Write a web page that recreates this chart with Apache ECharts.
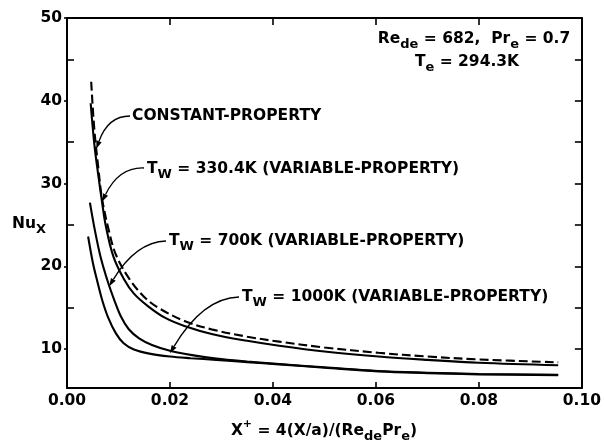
<!DOCTYPE html>
<html><head><meta charset="utf-8">
<script src="https://cdn.jsdelivr.net/npm/echarts@6/dist/echarts.min.js"></script>
<style>html,body{margin:0;padding:0;background:#fff}#c{width:604px;height:440px}</style>
</head><body><div id="c"></div>
<script>
// ---- data ----
const xConst  = [0.0047, 0.0053, 0.0061, 0.0068, 0.0081, 0.0095, 0.0122, 0.0150, 0.0177, 0.0228, 0.0283, 0.0350, 0.0412, 0.0500, 0.0605, 0.0700, 0.0800, 0.0954];
const nuConst = [42.3,   36.6,   31.8,   28.2,   24.4,   21.4,   18.4,   16.3,   15.0,   13.4,   12.35,  11.5,   10.9,   10.2,   9.55,   9.1,    8.75,   8.4];
const x330    = [0.0046, 0.0053, 0.0061, 0.0068, 0.0075, 0.0090, 0.0111, 0.0130, 0.0157, 0.0190, 0.0228, 0.0283, 0.0350, 0.0412, 0.0500, 0.0605, 0.0700, 0.0800, 0.0954];
const nu330   = [39.7,   34.8,   30.9,   27.8,   25.0,   21.2,   18.4,   16.7,   15.2,   13.8,   12.8,   11.8,   11.0,   10.4,   9.7,    9.1,    8.7,    8.35,   8.05];
const x700    = [0.00445,0.0054, 0.0065, 0.0079, 0.0092, 0.0105, 0.0120, 0.0140, 0.0165, 0.0200, 0.0240, 0.0290, 0.0350, 0.0412, 0.0500, 0.0605, 0.0700, 0.0800, 0.0954];
const nu700   = [27.7,   24.4,   21.2,   18.2,   15.9,   13.9,   12.4,   11.3,   10.5,   9.8,    9.3,    8.85,   8.5,    8.2,    7.8,    7.35,   7.15,   7.0,    6.9];
const x1000   = [0.0041, 0.0050, 0.0058, 0.0068, 0.0080, 0.0095, 0.0110, 0.0130, 0.0160, 0.0200, 0.0240, 0.0290, 0.0350, 0.0412, 0.0500, 0.0605, 0.0700, 0.0800, 0.0954];
const nu1000  = [23.6,   20.5,   18.4,   16.0,   13.8,   11.9,   10.7,   9.95,   9.45,   9.1,    8.9,    8.7,    8.42,   8.15,   7.75,   7.3,    7.1,    6.95,   6.85];

const yLabelTicks = [10, 20, 30, 40, 50];
const yMinorTicks = [15, 25, 35, 45];
const yRightTicks = [10, 15, 20, 25, 30, 35, 40, 45];

// arrow tips (data coordinates, on the curves)
const tipConst = [0.0057, 34.2];
const tip330   = [0.0068, 27.8];
const tip700   = [0.0082, 17.6];
const tip1000  = [0.0200, 9.5];

const FONT = '"DejaVu Sans"';
const pairs = (xs, ys) => xs.map((x, i) => [x, ys[i]]);
const chart = echarts.init(document.getElementById('c'), null, {renderer: 'canvas'});

const axisLine = {show: true, lineStyle: {color: '#000', width: 2}};
const tickStyle = {color: '#000', width: 1.6};
const labelStyle = {fontFamily: FONT, fontWeight: 'bold', fontSize: 15.5, color: '#000'};

const line = (data, dashed) => ({
  type: 'line', data, showSymbol: false, symbol: 'none', smooth: 0.35,
  xAxisIndex: 0, yAxisIndex: 0, silent: true,
  lineStyle: {color: '#000', width: 2.1, type: dashed ? [9, 4] : 'solid'}
});

chart.setOption({
  animation: false,
  backgroundColor: '#fff',
  grid: {left: 67, right: 20, top: 18, bottom: 52},
  xAxis: [
    {type: 'value', min: 0, max: 0.1, interval: 0.02, position: 'bottom', axisLine,
     splitLine: {show: false}, axisTick: {inside: true, length: 6, lineStyle: tickStyle},
     axisLabel: Object.assign({margin: 5, formatter: v => v.toFixed(2)}, labelStyle)},
    {type: 'value', min: 0, max: 0.1, interval: 0.02, position: 'top', axisLine,
     splitLine: {show: false}, axisTick: {inside: true, length: 7, lineStyle: tickStyle},
     axisLabel: {show: false}}
  ],
  yAxis: [
    {type: 'value', min: 5.3, max: 50, position: 'left', axisLine, splitLine: {show: false},
     axisTick: {inside: false, length: 3, customValues: yLabelTicks, lineStyle: tickStyle},
     axisLabel: Object.assign({margin: 5, customValues: yLabelTicks}, labelStyle)},
    {type: 'value', min: 5.3, max: 50, position: 'left', axisLine: {show: false}, splitLine: {show: false},
     axisTick: {inside: true, length: 7, customValues: yMinorTicks, lineStyle: tickStyle},
     axisLabel: {show: false}},
    {type: 'value', min: 5.3, max: 50, position: 'right', axisLine, splitLine: {show: false},
     axisTick: {inside: true, length: 7, customValues: yRightTicks, lineStyle: tickStyle},
     axisLabel: {show: false}}
  ],
  series: [
    line(pairs(xConst, nuConst), true),
    line(pairs(x330, nu330), false),
    line(pairs(x700, nu700), false),
    line(pairs(x1000, nu1000), false)
  ]
});

// ---- annotations ----
const mk = (size, weight) => `${weight} ${size}px ${FONT}`;
const rich = {
  m:   {font: mk(15.5, 'bold'), fill: '#000', lineHeight: 24, verticalAlign: 'middle'},
  s:   {font: mk(13, 'bold'), fill: '#000', lineHeight: 13, verticalAlign: 'bottom'},
  sup: {font: mk(11, 'bold'), fill: '#000', lineHeight: 11, verticalAlign: 'top'}
};
function txt(x, y, text, align) {
  return {type: 'text', z: 10, silent: true,
    style: {x, y, text, rich, font: mk(15.5, 'bold'), fill: '#000',
      align: align || 'left', verticalAlign: 'middle',
      textAlign: align || 'left', textVerticalAlign: 'middle'}};
}
function arrow(tail, ctrl, tipData) {
  const tip = chart.convertToPixel({xAxisIndex: 0, yAxisIndex: 0}, tipData);
  let dx = tip[0] - ctrl[0], dy = tip[1] - ctrl[1];
  const len = Math.hypot(dx, dy); dx /= len; dy /= len;
  const L = 8, W = 2.8;
  const bx = tip[0] - L * dx, by = tip[1] - L * dy;
  return [
    {type: 'bezierCurve', z: 9, silent: true,
     shape: {x1: tail[0], y1: tail[1], cpx1: ctrl[0], cpy1: ctrl[1], x2: bx, y2: by},
     style: {stroke: '#000', lineWidth: 1.3, fill: 'none'}},
    {type: 'polygon', z: 9, silent: true,
     shape: {points: [[tip[0], tip[1]], [bx - W * dy, by + W * dx], [bx + W * dy, by - W * dx]]},
     style: {fill: '#000'}}
  ];
}

const graphic = [
  txt(474, 39, '{m|Re}{s|de}{m| = 682,  Pr}{s|e}{m| = 0.7}', 'center'),
  txt(467, 62, '{m|T}{s|e}{m| = 294.3K}', 'center'),
  txt(132, 116, '{m|CONSTANT-PROPERTY}'),
  txt(147, 169, '{m|T}{s|W}{m| = 330.4K (VARIABLE-PROPERTY)}'),
  txt(169, 241, '{m|T}{s|W}{m| = 700K (VARIABLE-PROPERTY)}'),
  txt(242, 297, '{m|T}{s|W}{m| = 1000K (VARIABLE-PROPERTY)}'),
  txt(12, 224, '{m|Nu}{s|X}'),
  txt(324, 431, '{m|X}{sup|+}{m| = 4(X/a)/(Re}{s|de}{m|Pr}{s|e}{m|)}', 'center')
].concat(
  arrow([130, 116], [108, 116], tipConst),
  arrow([144, 168], [119, 167], tip330),
  arrow([166, 241], [136, 242], tip700),
  arrow([239, 297], [203, 298], tip1000)
);
chart.setOption({graphic});
</script>
</body></html>
